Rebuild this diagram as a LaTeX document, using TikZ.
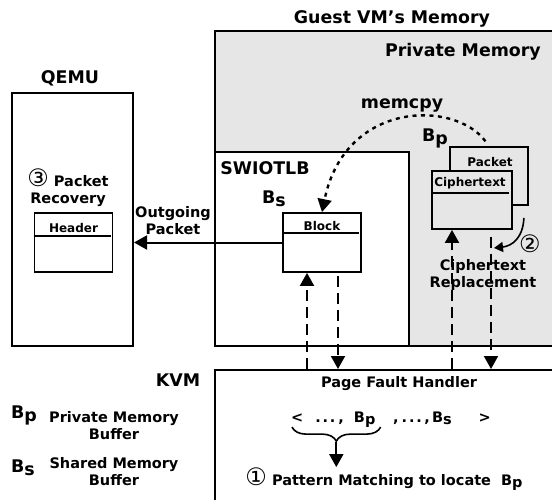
\documentclass[tikz,border=0pt]{standalone}
\usepackage{fontspec}
\setmainfont{DejaVu Sans}
\usetikzlibrary{arrows.meta,positioning,decorations.pathreplacing}
\definecolor{memgray}{HTML}{E6E6E6}
\newcommand{\stepno}[1]{{\mdseries\fontsize{24}{17}\selectfont #1}}
\newcommand{\bsub}[1]{B\raisebox{-.2em}{#1}}
\newcommand{\ddd}{.\kern1.8pt.\kern1.8pt.}

\begin{document}
\begin{tikzpicture}[
    x=1pt,y=-1pt,
    region/.style={draw,line width=2pt,inner sep=0pt},
    buf/.style={draw,line width=1.8pt,inner sep=0pt,minimum width=78pt,minimum height=59pt},
    sep/.style={line width=1.8pt},
    head/.style={font=\fontsize{17.4}{20}\selectfont\bfseries,inner sep=0pt,anchor=base},
    lbl/.style={font=\fontsize{14.5}{17}\selectfont\bfseries,inner sep=0pt,align=center},
    tag/.style={font=\fontsize{12}{14}\selectfont\bfseries,inner sep=0pt,anchor=base},
    flow/.style={-{Triangle[length=13pt,width=14pt]},line width=2pt},
    fault/.style={flow,dash pattern=on 11pt off 6pt},
    copyline/.style={flow,line width=2.4pt,dash pattern=on 4pt off 4.5pt}
  ]
  \useasboundingbox (0,0) rectangle (552,499);

  \node[region,fill=memgray,minimum width=339pt,minimum height=315pt] (priv) at (384.5,188.5) {};
  \node[region,fill=white,minimum width=194pt,minimum height=194pt] (swiotlb) at (312,249) {};
  \node[region,minimum width=121pt,minimum height=253pt] (qemu) at (72.5,219.5) {};
  \node[region,minimum width=339pt,minimum height=131pt] (kvm) at (384.5,435.5) {};

  \node[buf] (header) at (73.5,242.5) {};
  \node[buf] (block) at (322,242.5) {};
  \node[buf,fill=memgray,minimum height=58pt] (packet) at (489,176) {};
  \node[buf,fill=memgray,minimum width=80pt,minimum height=58pt] (cipher) at (472,200) {};
  \draw[sep] ([yshift=-24pt]header.north west) -- ([shift={(-2pt,-24pt)}]header.north east);
  \draw[sep] ([yshift=-21pt]block.north west) -- ([shift={(-3pt,-21pt)}]block.north east);
  \draw[sep] ([yshift=-23pt]cipher.north west) -- ([shift={(-4pt,-23pt)}]cipher.north east);

  \node[tag] (headert) at (73.5,232) {Header};
  \node[tag] (blockt) at (322,230) {Block};
  \node[tag] (packett) at (490,166) {Packet};
  \node[tag] (ciphert) at (470,186) {Ciphertext};

  \node[head] (guestt) at (392,23.5) {Guest VM's Memory};
  \node[head] (privt) at (463,56) {Private Memory};
  \node[head] (qemut) at (70,83) {QEMU};
  \node[head] (swiotlbt) at (265,174) {SWIOTLB};
  \node[head] (kvmt) at (178,386.5) {KVM};
  \node[head] (memcpyt) at (402,108) {memcpy};
  \node[head,anchor=base west] (bpt) at (422,141) {\bsub{p}};
  \node[head,anchor=base west] (bst) at (262,203) {\bsub{s}};

  \node[lbl] (recovery) at (68,188) {\stepno{③} Packet\\Recovery};
  \node[lbl] (outgoing) at (173,221) {Outgoing\\Packet};
  \node[lbl] (replace) at (483,275) {Ciphertext\\Replacement};
  \node[lbl] (two) at (530,244) {\stepno{②}};

  \node[lbl,anchor=base] (pfh) at (399,387.5) {Page Fault Handler};
  \node[lbl,anchor=base west] (seqa) at (291,422) {<\hspace{12pt}\ddd\kern3pt,\hspace{10pt}\bsub{p}};
  \node[lbl,anchor=base west] (seqb) at (393,422) {,\kern3pt\ddd\kern2.5pt,\kern2.2pt\bsub{s}\hspace{27pt}>};
  \node[lbl,anchor=base] (pattern) at (384,485) {\stepno{①} Pattern Matching to locate\hspace{5pt} \bsub{p}};

  \node[head,anchor=base west] (bpkey) at (11,418) {\bsub{p}};
  \node[lbl] (bpdesc) at (114,425.5) {Private Memory\\Buffer};
  \node[head,anchor=base west] (bskey) at (11,472) {\bsub{s}};
  \node[lbl] (bsdesc) at (114,471.5) {Shared Memory\\Buffer};

  \draw[flow] (block.west) -- (block.west -| qemu.east);
  \draw[copyline,shorten <=6pt] (packet.north) .. controls (455,100) and (345,100) .. (block.north);

  \draw[fault] ([xshift=-15pt]block.south |- kvm.north) -- ([xshift=-15pt]block.south);
  \draw[fault,shorten <=3pt] ([xshift=16pt]block.south) -- ([xshift=16pt]block.south |- kvm.north);
  \draw[fault] ([xshift=-20pt]cipher.south |- kvm.north) -- ([xshift=-20pt]cipher.south);
  \draw[fault,shorten <=7pt] ([xshift=19pt]cipher.south) -- ([xshift=19pt]cipher.south |- kvm.north);

  \coordinate (swap) at (494,248);
  \draw[flow,line width=1.6pt,-{Triangle[length=9pt,width=10pt]}] ([shift={(-5pt,-12pt)}]packet.south east) .. controls (523,238) and (512,246) .. (swap);

  \draw[decorate,decoration={brace,mirror,amplitude=14pt},line width=1.6pt] ([shift={(1pt,1pt)}]seqa.south west) -- ([shift={(5pt,1pt)}]seqa.south east);
  \draw[flow] ([shift={(3pt,-14pt)}]seqa.south) -- ([xshift=3pt]seqa.south |- pattern.north);
\end{tikzpicture}
\end{document}
